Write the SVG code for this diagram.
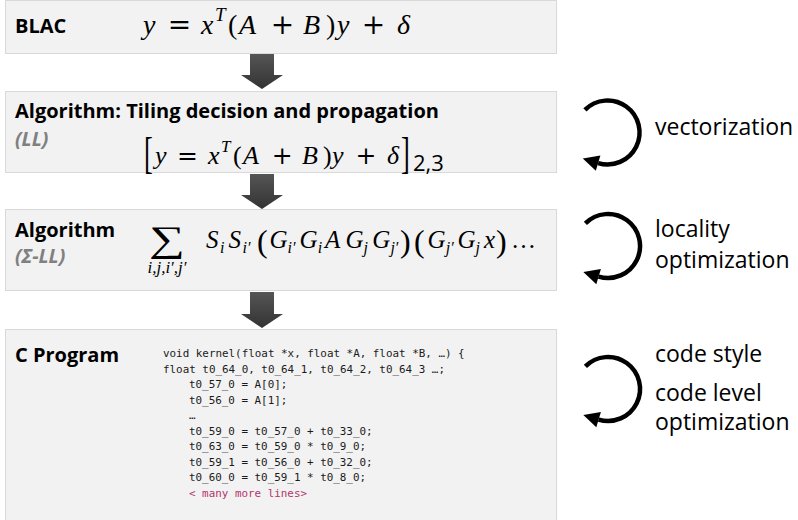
<svg xmlns="http://www.w3.org/2000/svg" width="798" height="520" viewBox="0 0 798 520">
<defs>
<linearGradient id="ag" x1="0" y1="0" x2="0" y2="1">
<stop offset="0" stop-color="#555555"/>
<stop offset="1" stop-color="#333333"/>
</linearGradient>
</defs>
<style>
.box{fill:#f2f2f2;stroke:#d9d9d9;stroke-width:1}
.lbl{font-family:"Open Sans",sans-serif;font-weight:bold;font-size:20px;fill:#000}
.sub{font-family:"Open Sans",sans-serif;font-weight:bold;font-style:italic;font-size:19.5px;fill:#808080}
.side{font-family:"Open Sans",sans-serif;font-size:23px;fill:#000}
.mi{font-family:"Liberation Serif",serif;font-style:italic}
.mo{font-family:"DejaVu Serif",serif}
.mp{font-family:"Liberation Serif",serif}
.code{font-family:"DejaVu Sans Mono",monospace;font-size:10.9px;fill:#1a1a1a}
.more{fill:#b5356b}
.arr{fill:url(#ag)}
.loop{fill:none;stroke:#000;stroke-width:4.5}
.loophead{fill:#000}
</style>

<g id="blac">
<rect class="box" x="5.5" y="0.5" width="551" height="53"/>
<text class="lbl" x="15" y="33">BLAC</text>
<text font-size="28" y="34">
<tspan class="mi" x="143">y</tspan><tspan class="mo" x="167.8" font-size="28">=</tspan><tspan class="mi" x="201">x</tspan><tspan class="mi" x="215" y="21" font-size="19">T</tspan><tspan class="mp" x="228" y="34">(</tspan><tspan class="mi" x="239">A</tspan><tspan class="mo" x="270.8" font-size="28">+</tspan><tspan class="mi" x="303">B</tspan><tspan class="mp" x="326">)</tspan><tspan class="mi" x="337">y</tspan><tspan class="mo" x="361.8" font-size="28">+</tspan><tspan class="mi" x="397">δ</tspan>
</text>
</g>

<g id="ll">
<rect class="box" x="5.5" y="91.5" width="551" height="81"/>
<text class="lbl" x="15" y="118">Algorithm: Tiling decision and propagation</text>
<text class="sub" x="15" y="146">(LL)</text>
<text class="mp" font-size="44" transform="translate(144,168) scale(0.6,1)">[</text>
<text font-size="26" y="164">
<tspan class="mi" x="155">y</tspan><tspan class="mo" x="177.1" font-size="25">=</tspan><tspan class="mi" x="208">x</tspan><tspan class="mi" x="221" y="152" font-size="17">T</tspan><tspan class="mp" x="233" y="164">(</tspan><tspan class="mi" x="243">A</tspan><tspan class="mo" x="271.8" font-size="25">+</tspan><tspan class="mi" x="302">B</tspan><tspan class="mp" x="323">)</tspan><tspan class="mi" x="332">y</tspan><tspan class="mo" x="355.5" font-size="25">+</tspan><tspan class="mi" x="387">δ</tspan>
</text>
<text class="mp" font-size="44" transform="translate(401,168) scale(0.6,1)">]</text>
<text x="413" y="171" font-family="Open Sans, sans-serif" font-size="22">2,3</text>
</g>

<g id="sigma-ll">
<rect class="box" x="5.5" y="209.5" width="551" height="81"/>
<text class="lbl" x="15" y="237">Algorithm</text>
<text class="sub" x="15" y="263">(Σ-LL)</text>
<text class="mp" font-size="36" text-anchor="middle" transform="translate(167,251) scale(1.4,1)">∑</text>
<text class="mi" x="167" y="273" font-size="17" text-anchor="middle">i,j,i′,j′</text>
<text font-size="25" y="248">
<tspan class="mi" x="206">S</tspan><tspan class="mi" x="220" y="253" font-size="16">i</tspan><tspan class="mi" x="228.5" y="248">S</tspan><tspan class="mi" x="242.5" y="253" font-size="16">i′</tspan>
<tspan class="mi" x="269.5" y="248">G</tspan><tspan class="mi" x="287.6" y="253" font-size="16">i′</tspan><tspan class="mi" x="299.5" y="248">G</tspan><tspan class="mi" x="317.7" y="253" font-size="16">i</tspan><tspan class="mi" x="325" y="248">A</tspan><tspan class="mi" x="345.4" y="248">G</tspan><tspan class="mi" x="363.6" y="253" font-size="16">j</tspan><tspan class="mi" x="372.2" y="248">G</tspan><tspan class="mi" x="390.4" y="253" font-size="16">j′</tspan>
<tspan class="mi" x="427.5" y="248">G</tspan><tspan class="mi" x="445.7" y="253" font-size="16">j′</tspan><tspan class="mi" x="457.4" y="248">G</tspan><tspan class="mi" x="475.6" y="253" font-size="16">j</tspan><tspan class="mi" x="484" y="248">x</tspan>
<tspan class="mp" x="511" y="248">…</tspan>
</text>
<text class="mp" font-size="32" y="252"><tspan x="257">(</tspan><tspan x="400">)</tspan><tspan x="414">(</tspan><tspan x="496">)</tspan></text>
</g>

<g id="c-program">
<rect class="box" x="5.5" y="329.5" width="551" height="200"/>
<text class="lbl" x="15" y="362">C Program</text>
<text class="code" x="163" y="357">void kernel(float *x, float *A, float *B, …) {</text>
<text class="code" x="163" y="372.5">float t0_64_0, t0_64_1, t0_64_2, t0_64_3 …;</text>
<text class="code" x="189" y="388">t0_57_0 = A[0];</text>
<text class="code" x="189" y="403.5">t0_56_0 = A[1];</text>
<text class="code" x="189" y="419">…</text>
<text class="code" x="189" y="434.5">t0_59_0 = t0_57_0 + t0_33_0;</text>
<text class="code" x="189" y="450">t0_63_0 = t0_59_0 * t0_9_0;</text>
<text class="code" x="189" y="465.5">t0_59_1 = t0_56_0 + t0_32_0;</text>
<text class="code" x="189" y="481">t0_60_0 = t0_59_1 * t0_8_0;</text>
<text class="code more" x="189" y="496.5">&lt; many more lines&gt;</text>
</g>

<g id="connectors">
<polygon class="arr" points="250,54 274,54 274,75 283,75 262,89 241,75 250,75"/>
<polygon class="arr" points="250,174 274,174 274,195 283,195 262,209 241,195 250,195"/>
<polygon class="arr" points="250,292 274,292 274,314 283,314 262,328 241,314 250,314"/>
</g>

<g id="loop-vectorization">
<g transform="translate(607.5,132.5)">
<path class="loop" d="M -22.6 -22.6 A 32 32 0 1 1 -9.4 30.6"/>
<polygon class="loophead" points="-7.1,23 -11.7,38.2 -24.7,25.9"/>
</g>
<text class="side" x="655" y="135">vectorization</text>
</g>

<g id="loop-locality">
<g transform="translate(608,246)">
<path class="loop" d="M -22.6 -22.6 A 32 32 0 1 1 -9.4 30.6"/>
<polygon class="loophead" points="-7.1,23 -11.7,38.2 -24.7,25.9"/>
</g>
<text class="side" x="655" y="237">locality</text>
<text class="side" x="655" y="268">optimization</text>
</g>

<g id="loop-code">
<g transform="translate(608,389)">
<path class="loop" d="M -22.6 -22.6 A 32 32 0 1 1 -9.4 30.6"/>
<polygon class="loophead" points="-7.1,23 -11.7,38.2 -24.7,25.9"/>
</g>
<text class="side" x="655" y="362">code style</text>
<text class="side" x="655" y="401">code level</text>
<text class="side" x="655" y="430">optimization</text>
</g>
</svg>
